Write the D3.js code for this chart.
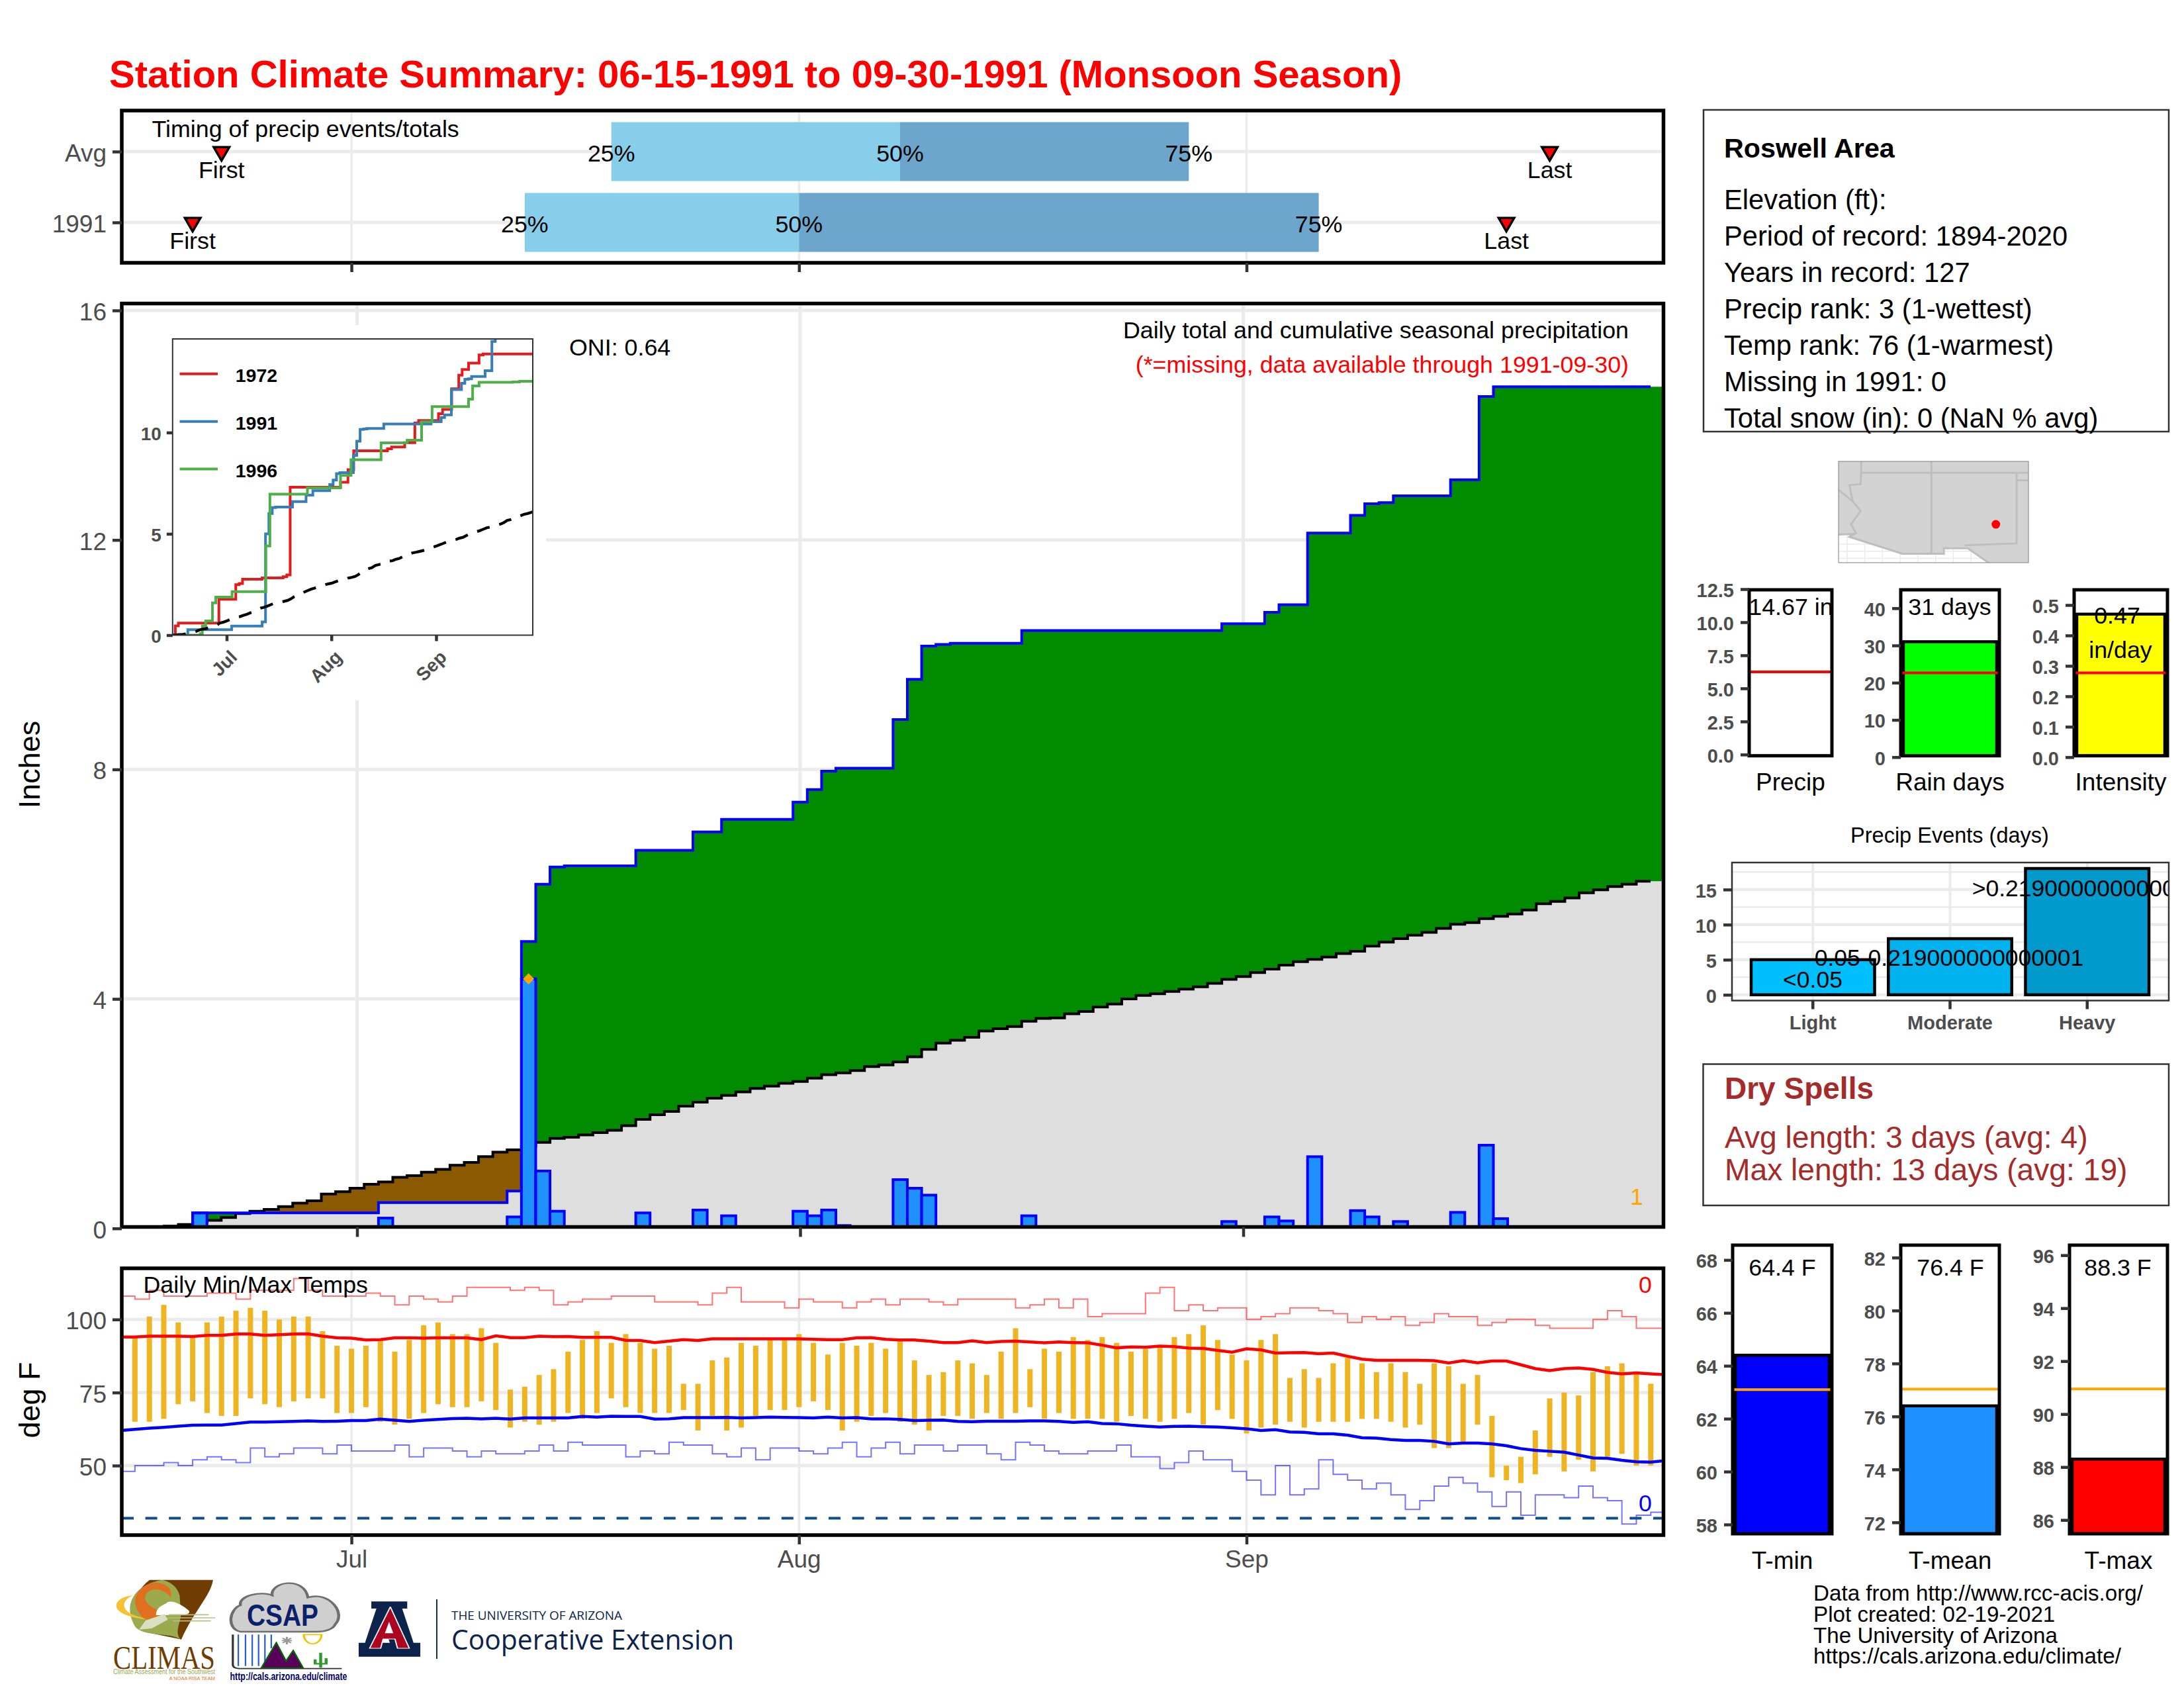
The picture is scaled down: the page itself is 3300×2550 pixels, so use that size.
<!DOCTYPE html>
<html>
<head>
<meta charset="utf-8">
<style>
  html, body { margin: 0; padding: 0; background: #fff; }
  svg { display: block; }
  text { font-family: "Liberation Sans", Arial, sans-serif; }
</style>
<script src="https://cdn.jsdelivr.net/npm/d3@7"></script>
</head>
<body>
<svg id="chart" width="3300" height="2550"></svg>
<script>
// --- data. Days are counted from Jun 15 (= 0) ---
const monthDays = [16, 47, 78];
const monthNames = ['Jul', 'Aug', 'Sep'];

const precipDays = [5, 18, 27, 28, 29, 30, 31, 36, 40, 42, 47, 48, 49, 50, 54, 55, 56, 57, 58, 63, 77, 80, 81, 83, 86, 87, 88, 89, 93, 95, 96];
const precipAmts = [.27, .18, .2, 4.35, 1.0, .3, .02, .27, .32, .22, .3, .22, .32, .05, .85, .7, .58, .03, .02, .22, .12, .2, .13, 1.25, .31, .2, .02, .12, .28, 1.45, .17];

// average cumulative precip, one value per day 0..106
const avgCum = [
  0, .01, .03, .04, .07, .11, .14, .19, .26, .30,
  .33, .38, .44, .48, .60, .64, .70, .77, .81, .89,
  .92, .98, 1.03, 1.10, 1.15, 1.25, 1.33, 1.37, 1.43, 1.50,
  1.57, 1.59, 1.63, 1.67, 1.71, 1.79, 1.90, 1.98, 2.04, 2.13,
  2.20, 2.27, 2.32, 2.38, 2.44, 2.48, 2.53, 2.56, 2.62, 2.68,
  2.71, 2.75, 2.82, 2.85, 2.90, 2.99, 3.12, 3.23, 3.28, 3.33,
  3.44, 3.48, 3.52, 3.61, 3.66, 3.67, 3.74, 3.78, 3.86, 3.91,
  4.00, 4.06, 4.09, 4.13, 4.17, 4.21, 4.27, 4.34, 4.39, 4.46,
  4.52, 4.59, 4.65, 4.69, 4.73, 4.79, 4.83, 4.92, 4.99, 5.05,
  5.11, 5.16, 5.23, 5.30, 5.33, 5.40, 5.44, 5.48, 5.55, 5.66,
  5.70, 5.76, 5.85, 5.90, 5.96, 6.00, 6.05
];

// inset comparison years: [day, cumulative inches]
const year1972 = [[0, 0], [.8, .46], [1.7, .6], [13.7, 1.77], [18.7, 2.49], [19.7, 2.55], [20.7, 2.76], [26.5, 2.83], [32.7, 2.88], [33.8, 2.97], [34.8, 7.3], [49.7, 7.55], [51.9, 8.17], [53.6, 9.1], [63.6, 9.2], [64.8, 9.29], [68.7, 9.5], [71.7, 10.47], [72.8, 10.59], [78.7, 10.93], [79.9, 11.14], [82.6, 12.16], [84.7, 12.83], [85.7, 13.11], [87.6, 13.43], [90.7, 13.83], [91.9, 13.88], [106.6, 13.88]];
const year1996 = [[0, 0], [3.2, 0], [8.2, .07], [8.8, .46], [9.8, .7], [11.8, 1.59], [12.8, 1.88], [17.6, 2.15], [27.6, 4.4], [28.8, 6.96], [39.9, 7.27], [49.7, 7.88], [52.8, 8.66], [61.7, 9.49], [69.4, 9.62], [73.7, 10.53], [76.8, 11.28], [87.6, 11.65], [88.8, 12.3], [90.7, 12.48], [100.7, 12.5], [102.7, 12.53], [106.6, 12.53]];
const insetYears = ['1972', '1991', '1996'];

// timing panel
const timingRows = ['Avg', '1991'];
const timingFirst = [7, 5];
const timingLast = [99, 96];
const timingQ25 = [34, 28];
const timingQ50 = [54, 47];
const timingQ75 = [74, 83];

// daily temps, bars run day 1..106
const tempHi = [94, 101, 105, 99, 94, 99, 101, 103, 104, 103, 100, 101, 101, 96, 91, 90, 91, 93, 89, 93, 98, 99, 95, 95, 97, 92, 76, 77, 81, 83, 89, 93, 96, 92, 95, 92, 90, 91, 78, 78, 86, 87, 92, 91, 93, 93, 95, 92, 88, 92, 91, 92, 90, 93, 86, 81, 82, 86, 85, 81, 89, 97, 83, 90, 89, 94, 93, 94, 92, 89, 90, 91, 94, 95, 98, 93, 88, 86, 93, 95, 80, 83, 80, 85, 87, 85, 82, 85, 82, 78, 85, 84, 78, 81, 67, 50, 53, 62, 73, 75, 74, 82, 84, 85, 82, 78];
const tempLo = [65, 65, 66, 71, 72, 68, 67, 67, 73, 71, 70, 72, 73, 73, 68, 68, 70, 65, 64, 66, 68, 71, 70, 70, 72, 69, 63, 65, 64, 65, 68, 66, 68, 73, 70, 68, 68, 68, 69, 62, 67, 62, 63, 67, 69, 69, 70, 72, 69, 62, 65, 67, 68, 65, 64, 62, 67, 67, 66, 68, 66, 68, 70, 66, 68, 66, 66, 66, 65, 67, 66, 65, 66, 68, 64, 69, 66, 61, 63, 64, 65, 63, 65, 65, 65, 66, 66, 65, 63, 64, 56, 56, 58, 64, 46, 45, 44, 47, 53, 48, 52, 48, 53, 54, 50, 50];

// record high / low, day 0..106
const recHi = [108, 107, 110, 108, 108, 108, 109, 109, 107, 110, 110, 110, 114, 110, 108, 108, 108, 109, 108, 105, 108, 107, 106, 108, 111, 111, 111, 110, 111, 110, 105, 106, 107, 107, 108, 108, 108, 106, 106, 106, 105, 109, 111, 106, 106, 106, 104, 107, 106, 106, 104, 106, 107, 105, 107, 107, 106, 105, 107, 107, 107, 107, 104, 105, 107, 104, 107, 101, 102, 102, 102, 109, 111, 103, 105, 103, 104, 104, 100, 101, 102, 104, 104, 103, 102, 99, 101, 100, 101, 98, 99, 102, 101, 101, 98, 99, 100, 100, 98, 97, 97, 97, 100, 103, 101, 97, 97];
const recLo = [48, 50, 50, 51, 50, 52, 53, 52, 51, 56, 53, 54, 56, 56, 54, 57, 55, 55, 55, 57, 53, 56, 56, 55, 53, 55, 54, 54, 55, 57, 55, 58, 57, 57, 57, 53, 55, 54, 58, 57, 57, 54, 53, 56, 52, 56, 56, 55, 54, 56, 58, 53, 56, 58, 54, 57, 57, 55, 57, 57, 54, 52, 58, 57, 55, 54, 54, 55, 55, 57, 53, 53, 49, 51, 55, 52, 52, 48, 45, 40, 50, 40, 42, 52, 47, 45, 42, 44, 40, 35, 38, 43, 46, 44, 41, 36, 41, 33, 40, 40, 39, 43, 39, 38, 30, 33, 34];

// smoothed normal high / low, day 0..107
const normHi = [94.0, 94.0, 94.3, 94.3, 94.3, 94.2, 94.6, 94.6, 95.0, 95.0, 94.6, 94.8, 95.0, 95.1, 94.3, 93.7, 93.6, 93.0, 93.1, 93.7, 93.7, 93.6, 93.7, 93.7, 93.7, 93.1, 94.4, 93.8, 93.8, 94.3, 94.1, 94.2, 93.9, 93.9, 93.9, 92.9, 92.8, 92.1, 92.6, 93.1, 92.8, 93.4, 93.4, 93.4, 93.4, 93.4, 93.4, 93.4, 93.2, 93.1, 93.1, 93.7, 93.8, 93.2, 93.0, 93.0, 92.6, 92.1, 92.1, 92.7, 92.1, 92.5, 92.6, 92.3, 92.0, 92.3, 92.1, 92.0, 91.2, 90.3, 90.6, 90.5, 90.9, 90.7, 90.2, 90.1, 89.4, 88.8, 90.0, 89.6, 88.5, 88.6, 88.7, 88.3, 88.5, 87.4, 86.4, 86.0, 86.0, 86.0, 86.0, 85.9, 85.1, 85.9, 85.2, 85.8, 85.8, 84.5, 83.2, 82.5, 83.2, 83.4, 82.9, 81.9, 81.4, 81.7, 81.4, 81.1];
const normLo = [62.0, 62.4, 62.8, 63.1, 63.5, 63.8, 63.9, 63.9, 64.4, 64.9, 64.9, 65.0, 65.1, 65.3, 65.1, 65.2, 65.4, 65.4, 65.9, 65.5, 65.1, 65.5, 65.8, 66.1, 66.2, 66.0, 66.2, 65.9, 66.3, 66.3, 66.3, 66.3, 66.8, 66.6, 66.9, 66.8, 66.8, 65.9, 66.0, 66.4, 66.4, 66.4, 66.5, 66.3, 66.4, 66.6, 66.5, 66.4, 66.3, 66.6, 66.3, 66.4, 66.0, 66.0, 65.8, 65.4, 65.5, 65.6, 65.1, 65.0, 65.2, 65.2, 65.2, 65.3, 65.3, 65.1, 64.8, 65.0, 64.4, 64.3, 63.8, 63.5, 63.2, 63.4, 63.5, 63.3, 63.2, 62.9, 62.6, 62.0, 62.3, 61.5, 61.4, 60.9, 60.9, 60.4, 59.5, 59.4, 58.9, 58.6, 58.6, 58.3, 57.4, 57.7, 57.7, 57.4, 56.8, 55.8, 55.2, 54.9, 54.6, 53.6, 52.6, 52.5, 51.8, 51.3, 51.2, 51.7];

// side panels
const infoTitle = 'Roswell Area';
const infoLines = ['Elevation (ft):', 'Period of record: 1894-2020', 'Years in record: 127', 'Precip rank: 3 (1-wettest)', 'Temp rank: 76 (1-warmest)', 'Missing in 1991: 0', 'Total snow (in): 0 (NaN % avg)'];
const eventCats = ['Light', 'Moderate', 'Heavy'];
const eventVals = [5, 8, 18];
const eventLabels = ['<0.05', '0.05-0.219000000000001', '>0.219000000000001'];
const eventColors = ['#00BFFF', '#00B2EE', '#009ACD'];
const drySpells = ['Avg length: 3 days (avg: 4)', 'Max length: 13 days (avg: 19)'];
const credits = ['Data from http://www.rcc-acis.org/', 'Plot created: 02-19-2021', 'The University of Arizona', 'https://cals.arizona.edu/climate/'];

// map outlines as [lon, lat]
const mapSouthEdge = [[-115.6, 32.67], [-114.49, 32.72], [-114.83, 32.51], [-111.1, 31.33], [-108.17, 31.33], [-108.17, 31.71], [-106.48, 31.71], [-105.01, 30.69]];
const mapBorders = [
  [[-113.99, 37.8], [-114.04, 36.2], [-114.83, 36.14], [-114.6, 35], [-114.04, 34.33], [-114.72, 33.39], [-114.38, 32.78], [-114.83, 32.51]],
  [[-115.6, 35.8], [-114.6, 35]],
  [[-114.04, 37], [-102.2, 37]],
  [[-109.05, 37.8], [-109.05, 31.33]],
  [[-103.04, 37], [-103.04, 32.05], [-106.7, 31.92]],
  [[-103.04, 36.47], [-102.2, 36.47]]
];
const mapGridLon = [-115, -113.75, -112.5, -111.25, -110, -108.75, -107.5, -106.25, -105, -103.75];
const mapGridLat = [32, 31.5, 31];
const station = [-104.5, 33.39];

// --- helpers ---
const svg = d3.select('#chart');
const AXIS_GREY = '#4D4D4D', GRID = '#EBEBEB';
const NOTE = 35.8;
let clipCount = 0;

function addText(g, x, y, str, o) {
  o = o || {};
  return g.append('text').attr('x', x).attr('y', y).attr('dy', '0.39em')
    .attr('text-anchor', o.anchor || 'start')
    .attr('font-size', o.size || NOTE)
    .attr('font-weight', o.weight || 'normal')
    .attr('fill', o.fill || '#000')
    .text(str);
}

function clipGroup(x0, y0, x1, y1) {
  const id = 'clip' + (clipCount++);
  svg.append('clipPath').attr('id', id).append('rect')
    .attr('x', x0).attr('y', y0).attr('width', x1 - x0).attr('height', y1 - y0);
  return svg.append('g').attr('clip-path', `url(#${id})`);
}

function frame(x0, y0, x1, y1, color, width) {
  svg.append('rect').attr('x', x0).attr('y', y0).attr('width', x1 - x0).attr('height', y1 - y0)
    .attr('fill', 'none').attr('stroke', color).attr('stroke-width', width);
}

function styleAxis(g, size, weight) {
  g.select('.domain').remove();
  g.selectAll('.tick line').attr('stroke', '#333').attr('stroke-width', 4.5);
  g.selectAll('.tick text').attr('fill', AXIS_GREY).attr('font-size', size)
    .attr('font-weight', weight).attr('font-family', '"Liberation Sans", Arial, sans-serif');
}

function leftAxis(px, scale, values, size, weight, len, pad, fmt) {
  const ax = d3.axisLeft(scale).tickValues(values).tickSize(len).tickPadding(pad);
  if (fmt) ax.tickFormat(fmt);
  const g = svg.append('g').attr('transform', `translate(${px},0)`).call(ax);
  styleAxis(g, size, weight);
  g.selectAll('.tick text').attr('dy', '0.39em');
  return g;
}

function bottomAxis(py, scale, values, size, weight, len, pad, fmt) {
  const ax = d3.axisBottom(scale).tickValues(values).tickSize(len).tickPadding(pad);
  ax.tickFormat(fmt || (() => ''));
  const g = svg.append('g').attr('transform', `translate(0,${py})`).call(ax);
  styleAxis(g, size, weight);
  return g;
}

function hGrid(g, scale, values, x0, x1, width) {
  g.selectAll(null).data(values).join('line')
    .attr('x1', x0).attr('x2', x1)
    .attr('y1', d => scale(d)).attr('y2', d => scale(d))
    .attr('stroke', GRID).attr('stroke-width', width);
}

function vGrid(g, scale, values, y0, y1, width) {
  g.selectAll(null).data(values).join('line')
    .attr('y1', y0).attr('y2', y1)
    .attr('x1', d => scale(d)).attr('x2', d => scale(d))
    .attr('stroke', GRID).attr('stroke-width', width);
}

const monthLabel = d => monthNames[monthDays.indexOf(d)];

// --- title ---
addText(svg, 165, 109, 'Station Climate Summary: 06-15-1991 to 09-30-1991 (Monsoon Season)',
  { size: 58, weight: 'bold', fill: '#FF0000' });

// --- timing panel ---
const L = 184, R = 2513.5;
const tX = d3.scaleLinear().domain([0.09, 106.88]).range([L, R]);
const timingY = d3.scalePoint().domain(timingRows).range([229, 336]);
{
  const g = clipGroup(L, 167, R, 397);
  vGrid(g, tX, monthDays, 167, 397, 3.5);
  hGrid(g, timingY, timingRows, L, R, 5);
  timingRows.forEach((row, i) => {
    const cy = timingY(row);
    g.append('rect').attr('x', tX(timingQ25[i])).attr('y', cy - 44.5)
      .attr('width', tX(timingQ50[i]) - tX(timingQ25[i])).attr('height', 89).attr('fill', '#87CEEB');
    g.append('rect').attr('x', tX(timingQ50[i])).attr('y', cy - 44.5)
      .attr('width', tX(timingQ75[i]) - tX(timingQ50[i])).attr('height', 89).attr('fill', '#6CA6CD');
    [[timingQ25[i], '25%'], [timingQ50[i], '50%'], [timingQ75[i], '75%']].forEach(q =>
      addText(g, tX(q[0]), cy + 1, q[1], { anchor: 'middle' }));
    [[timingFirst[i], 'First'], [timingLast[i], 'Last']].forEach(m => {
      const mx = tX(m[0]);
      g.append('path')
        .attr('d', d3.symbol().type(d3.symbolTriangle).size(240)())
        .attr('transform', `translate(${mx},${cy}) rotate(180)`)
        .attr('fill', '#FF0000').attr('stroke', '#000').attr('stroke-width', 3.5);
      addText(g, mx, cy + 26, m[1], { anchor: 'middle' });
    });
  });
  addText(g, 229.5, 193, 'Timing of precip events/totals');
  frame(L, 167, R, 397, '#000', 5.5);
  leftAxis(L, timingY, timingRows, 37, 'normal', 14, 9);
  bottomAxis(397, tX, monthDays, 35, 'normal', 14, 8);
}

// --- main precip panel ---
const MAIN_TOP = 458.5, MAIN_BOTTOM = 1853.5;
const pX = d3.scaleLinear().domain([-0.46, 107.4]).range([L, R]);
const pY = d3.scaleLinear().domain([0, 16]).range([1855.7, 469]);
const cumTotal = Array.from(d3.cumsum(precipAmts));
const totalOn = d => { const i = d3.bisectRight(precipDays, d); return i ? cumTotal[i - 1] : 0; };
const stepRows = avgCum.flatMap((a, d) => {
  const row = { avg: a, total: totalOn(d) };
  const from = d === 0 ? pX.domain()[0] : d - .5;
  const to = d === avgCum.length - 1 ? pX.domain()[1] : d + .5;
  return [{ x: from, ...row }, { x: to, ...row }];
});
const totalSteps = [[precipDays[0] - .5, 0]].concat(precipDays.map((d, i) => [d - .5, cumTotal[i]]), [[106.5, cumTotal[cumTotal.length - 1]]]);
const avgSteps = avgCum.flatMap((a, d) => [[d - .5, a], [d + .5, a]]);
{
  const g = clipGroup(L, MAIN_TOP, R, MAIN_BOTTOM);
  hGrid(g, pY, [0, 4, 8, 12, 16], L, R, 5);
  vGrid(g, pX, monthDays, MAIN_TOP, MAIN_BOTTOM, 5);

  const ribbon = (lo, hi) => d3.area().x(d => pX(d.x)).y0(d => pY(lo(d))).y1(d => pY(hi(d)));
  g.append('path').attr('d', ribbon(() => 0, d => Math.min(d.avg, d.total))(stepRows)).attr('fill', '#DEDEDE');
  g.append('path').attr('d', ribbon(d => d.avg, d => Math.max(d.avg, d.total))(stepRows)).attr('fill', '#008B00');
  g.append('path').attr('d', ribbon(d => d.total, d => Math.max(d.avg, d.total))(stepRows)).attr('fill', '#8B5A00');

  g.append('path').attr('d', d3.line().x(d => pX(d[0])).y(d => pY(d[1]))(avgSteps))
    .attr('fill', 'none').attr('stroke', '#000').attr('stroke-width', 4);

  g.selectAll('.day').data(precipDays).join('rect').attr('class', 'day')
    .attr('x', d => pX(d - .5)).attr('width', d => pX(d + .5) - pX(d - .5))
    .attr('y', (d, i) => pY(precipAmts[i])).attr('height', (d, i) => pY(0) - pY(precipAmts[i]))
    .attr('fill', '#1E90FF').attr('stroke', '#0000FF').attr('stroke-width', 4);

  g.append('path').attr('d', d3.line().curve(d3.curveStepAfter).x(d => pX(d[0])).y(d => pY(d[1]))(totalSteps))
    .attr('fill', 'none').attr('stroke', '#0000FF').attr('stroke-width', 4);

  // wettest day marker
  g.append('path').attr('d', d3.symbol().type(d3.symbolSquare).size(144)())
    .attr('transform', `translate(${pX(28)},${pY(precipAmts[3])}) rotate(45)`).attr('fill', '#FFA500');

  addText(g, 2461, 497, 'Daily total and cumulative seasonal precipitation', { anchor: 'end' });
  addText(g, 2461, 549, '(*=missing, data available through 1991-09-30)', { anchor: 'end', fill: '#FF0000' });
  addText(g, 2473, 1806, '1', { anchor: 'middle', fill: '#FFA500' });
  addText(g, 860, 523, 'ONI: 0.64');

  // inset, with a white plate that cuts the gridlines
  g.append('rect').attr('x', L).attr('y', 491).attr('width', 825 - L).attr('height', 1058 - 491).attr('fill', '#fff');
  frame(L, MAIN_TOP, R, MAIN_BOTTOM, '#000', 5.5);
  leftAxis(L, pY, [0, 4, 8, 12, 16], 37, 'normal', 14, 9);
  bottomAxis(MAIN_BOTTOM, pX, monthDays, 35, 'normal', 15, 8);
  addText(svg, 0, 0, 'Inches', { anchor: 'middle', size: 45 }).attr('transform', 'translate(42,1155) rotate(-90)');
}

// --- inset cumulative comparison ---
{
  const iX = d3.scaleLinear().domain([0, 106.6]).range([260.8, 805]);
  const iY = d3.scaleLinear().domain([0, 14.62]).range([959.5, 512]);
  const g = clipGroup(260.8, 512, 805, 959.5);
  const stepLine = d3.line().curve(d3.curveStepAfter).x(d => iX(d[0])).y(d => iY(d[1]));
  const colors = ['#E41A1C', '#377EB8', '#4DAF4A'];
  const year1991 = [[0, 0]].concat(totalSteps.slice(1, -1), [[106.6, cumTotal[cumTotal.length - 1]]]);
  [year1972, year1991, year1996].forEach((s, i) =>
    g.append('path').attr('d', stepLine(s)).attr('fill', 'none').attr('stroke', colors[i]).attr('stroke-width', 4));
  g.append('path').attr('d', d3.line().x((d, i) => iX(i)).y(d => iY(d))(avgCum.concat(6.12)))
    .attr('fill', 'none').attr('stroke', '#000').attr('stroke-width', 4.2).attr('stroke-dasharray', '20 15');
  frame(260.8, 512, 805, 959.5, '#333', 2);
  leftAxis(260.8, iY, [0, 5, 10], 28, 'bold', 9, 8);
  const xa = bottomAxis(959.5, iX, monthDays, 28, 'bold', 9, 8, monthLabel);
  xa.selectAll('.tick text').attr('text-anchor', 'end').attr('dy', 0)
    .attr('transform', 'translate(5,23) rotate(-45)');
  const legendY = d3.scalePoint().domain(insetYears).range([564.7, 708.6]);
  insetYears.forEach((yr, i) => {
    svg.append('line').attr('x1', 271.5).attr('x2', 329).attr('y1', legendY(yr)).attr('y2', legendY(yr))
      .attr('stroke', colors[i]).attr('stroke-width', 4);
    addText(svg, 355.7, legendY(yr) + 1, yr, { size: 28.5, weight: 'bold' });
  });
}

// --- daily temps panel ---
{
  const T = 1916, B = 2319;
  const tY = d3.scaleLinear().domain([50, 100]).range([2214, 1993.3]);
  const g = clipGroup(L, T, R, B);
  hGrid(g, tY, [50, 75, 100], L, R, 5);
  vGrid(g, tX, monthDays, T, B, 3.5);
  const thin = (vals, color) => g.append('path')
    .attr('d', d3.line().curve(d3.curveStepAfter).x((d, i) => tX(i)).y(d => tY(d))(vals.concat(vals[vals.length - 1])))
    .attr('fill', 'none').attr('stroke', color).attr('stroke-width', 2).attr('stroke-opacity', .55);
  thin(recHi, '#FF0000');
  thin(recLo, '#0000FF');
  g.selectAll('.t').data(tempHi).join('rect').attr('class', 't')
    .attr('x', (d, i) => tX(i + 1) - 4).attr('width', 8)
    .attr('y', d => tY(d)).attr('height', (d, i) => tY(tempLo[i]) - tY(d))
    .attr('fill', '#EEB422');
  const smooth = d3.line().x((d, i) => tX(i)).y(d => tY(d));
  g.append('path').attr('d', smooth(normHi)).attr('fill', 'none').attr('stroke', '#FF0000').attr('stroke-width', 4.5);
  g.append('path').attr('d', smooth(normLo)).attr('fill', 'none').attr('stroke', '#0000FF').attr('stroke-width', 4.5);
  g.append('line').attr('x1', L).attr('x2', R).attr('y1', tY(32)).attr('y2', tY(32))
    .attr('stroke', '#104E8B').attr('stroke-width', 4).attr('stroke-dasharray', '18 17.6');
  addText(g, 216.5, 1939, 'Daily Min/Max Temps');
  addText(g, 2486, 1939, '0', { anchor: 'middle', fill: '#FF0000' });
  addText(g, 2486, 2269, '0', { anchor: 'middle', fill: '#0000FF' });
  frame(L, T, R, B, '#000', 5.5);
  leftAxis(L, tY, [50, 75, 100], 37, 'normal', 14, 9);
  bottomAxis(B, tX, monthDays, 37, 'normal', 14, 9, monthLabel);
  addText(svg, 0, 0, 'deg F', { anchor: 'middle', size: 45 }).attr('transform', 'translate(42,2115) rotate(-90)');
}

// --- info box ---
{
  frame(2574, 166, 3277, 652, '#333', 2.5);
  addText(svg, 2605, 222, infoTitle, { size: 41.3, weight: 'bold' });
  const lineY = d3.scalePoint().domain(infoLines).range([300, 630]);
  infoLines.forEach(s => addText(svg, 2605, lineY(s), s, { size: 41.7 }));
}

// --- locator map ---
{
  const mX = d3.scaleLinear().domain([-115.6, -102.2]).range([2778, 3065]);
  const mY = d3.scaleLinear().domain([30.7, 37.8]).range([850, 697]);
  const g = clipGroup(2778, 697, 3065, 850);
  const mapLine = d3.line().x(d => mX(d[0])).y(d => mY(d[1]));
  g.selectAll('.gl').data(mapGridLon).join('line').attr('class', 'gl')
    .attr('x1', d => mX(d)).attr('x2', d => mX(d)).attr('y1', 697).attr('y2', 850)
    .attr('stroke', GRID).attr('stroke-width', 1.5);
  g.selectAll('.gt').data(mapGridLat).join('line').attr('class', 'gt')
    .attr('y1', d => mY(d)).attr('y2', d => mY(d)).attr('x1', 2778).attr('x2', 3065)
    .attr('stroke', GRID).attr('stroke-width', 1.5);
  const land = [[-115.6, 37.8], [-102.2, 37.8], [-102.2, 30.7]].concat(mapSouthEdge.slice().reverse());
  g.append('path').attr('d', mapLine(land) + 'Z').attr('fill', '#D3D3D3').attr('stroke', 'none');
  g.append('path').attr('d', mapLine(mapSouthEdge)).attr('fill', 'none').attr('stroke', '#BEBEBE').attr('stroke-width', 3);
  mapBorders.forEach(b => g.append('path').attr('d', mapLine(b)).attr('fill', 'none').attr('stroke', '#BEBEBE').attr('stroke-width', 3));
  g.append('circle').attr('cx', mX(station[0])).attr('cy', mY(station[1])).attr('r', 6.5).attr('fill', '#FF0000');
  frame(2778, 697, 3065, 850, '#7F7F7F', 1);
}

// --- small summary bars ---
function statBar(c) {
  const y = d3.scaleLinear().domain(c.domain).range([c.bottom, c.top]);
  const g = clipGroup(c.left, c.top, c.right, c.bottom);
  if (c.value <= c.domain[1]) {
    g.append('rect').attr('x', c.left + 4).attr('width', c.right - c.left - 8)
      .attr('y', y(c.value)).attr('height', c.bottom - y(c.value) + 4)
      .attr('fill', c.fill).attr('stroke', '#000').attr('stroke-width', 4.5);
  }
  g.append('line').attr('x1', c.left).attr('x2', c.right).attr('y1', y(c.avg)).attr('y2', y(c.avg))
    .attr('stroke', c.avgColor).attr('stroke-width', 4);
  c.notes.forEach(n => addText(g, n[0], n[1], n[2], { size: NOTE }).attr('text-anchor', 'middle'));
  frame(c.left, c.top, c.right, c.bottom, '#000', 5);
  leftAxis(c.left, y, c.ticks, 29, 'bold', 13, 10, c.fmt);
  addText(svg, (c.left + c.right) / 2, c.labelY, c.label, { size: 37, anchor: 'middle' });
}

statBar({ left: 2643, right: 2768, top: 891, bottom: 1141.7, domain: [-.09, 12.45], ticks: [0, 2.5, 5, 7.5, 10, 12.5],
  value: 14.67, avg: 6.25, fill: '#fff', avgColor: '#FF0000', label: 'Precip', labelY: 1180, fmt: d3.format('.1f'),
  notes: [[2706, 915, '14.67 in']] });
statBar({ left: 2872, right: 3021, top: 891, bottom: 1141.7, domain: [.37, 44.95], ticks: [0, 10, 20, 30, 40],
  value: 31, avg: 22.65, fill: '#00FF00', avgColor: '#FF0000', label: 'Rain days', labelY: 1180,
  notes: [[2946, 915, '31 days']] });
statBar({ left: 3134, right: 3275, top: 891, bottom: 1141.7, domain: [.0046, .55], ticks: [0, .1, .2, .3, .4, .5],
  value: .47, avg: .277, fill: '#FFFF00', avgColor: '#FF0000', label: 'Intensity', labelY: 1180, fmt: d3.format('.1f'),
  notes: [[3199, 928, '0.47'], [3204, 980, 'in/day']] });

statBar({ left: 2618, right: 2768, top: 1881, bottom: 2317, domain: [57.65, 68.56], ticks: [58, 60, 62, 64, 66, 68],
  value: 64.4, avg: 63.1, fill: '#0000FF', avgColor: '#FFA500', label: 'T-min', labelY: 2356,
  notes: [[2693, 1913, '64.4 F']] });
statBar({ left: 2872, right: 3021, top: 1881, bottom: 2317, domain: [71.57, 82.47], ticks: [72, 74, 76, 78, 80, 82],
  value: 76.4, avg: 77.03, fill: '#1E90FF', avgColor: '#FFA500', label: 'T-mean', labelY: 2356,
  notes: [[2947, 1913, '76.4 F']] });
statBar({ left: 3127, right: 3275, top: 1881, bottom: 2317, domain: [85.48, 96.38], ticks: [86, 88, 90, 92, 94, 96],
  value: 88.3, avg: 90.95, fill: '#FF0000', avgColor: '#FFA500', label: 'T-max', labelY: 2356,
  notes: [[3200, 1913, '88.3 F']] });

// --- precip events ---
{
  const x0 = 2617, x1 = 3277, T = 1303, B = 1511.5;
  const eX = d3.scaleBand().domain(eventCats).range([2646, 3247]).paddingInner(.1);
  const eY = d3.scaleLinear().domain([-.82, 18.85]).range([B, T]);
  const eCenter = d => eX(d) + eX.bandwidth() / 2;
  addText(svg, 2946, 1260, 'Precip Events (days)', { size: 32.5, anchor: 'middle' });
  const g = clipGroup(x0, T, x1, B);
  hGrid(g, eY, [2.5, 7.5, 12.5, 17.5], x0, x1, 2.5);
  hGrid(g, eY, [0, 5, 10, 15], x0, x1, 4.5);
  vGrid(g, eCenter, eventCats, T, B, 4);
  g.selectAll('.ev').data(eventCats).join('rect').attr('class', 'ev')
    .attr('x', d => eX(d)).attr('width', eX.bandwidth())
    .attr('y', (d, i) => eY(eventVals[i])).attr('height', (d, i) => eY(0) - eY(eventVals[i]))
    .attr('fill', (d, i) => eventColors[i]).attr('stroke', '#000').attr('stroke-width', 4.5);
  const labelPos = [[2739, 1478], [2945, 1445], [3153, 1340]];
  eventLabels.forEach((s, i) => addText(g, labelPos[i][0], labelPos[i][1], s, { size: 35.5, anchor: 'middle' }));
  frame(x0, T, x1, B, '#333', 2.5);
  leftAxis(x0, eY, [0, 5, 10, 15], 29, 'bold', 13, 10);
  const ax = d3.axisBottom(eX).tickSize(13).tickPadding(10);
  styleAxis(svg.append('g').attr('transform', `translate(0,${B})`).call(ax), 29, 'bold');
}

// --- dry spells ---
{
  const BROWN = '#A52A2A';
  frame(2573.5, 1607.5, 3277, 1821, '#333', 2.5);
  addText(svg, 2606, 1642, 'Dry Spells', { size: 46, weight: 'bold', fill: BROWN });
  addText(svg, 2606, 1716, drySpells[0], { size: 46.2, fill: BROWN });
  addText(svg, 2606, 1765, drySpells[1], { size: 46.2, fill: BROWN });
}

// --- credits ---
credits.forEach((s, i) => addText(svg, 2740, 2405.5 + i * 31.6, s, { size: 33.2 }));

// --- logos: rough vector stand-ins, paths in crop pixels so squeezed with a transform ---
{
  const logo = svg.append('g').attr('transform', 'translate(140,2350) scale(0.638,0.3333)');
  const shape = (d, fill, extra) => {
    const p = logo.append('path').attr('d', d).attr('fill', fill);
    if (extra) Object.keys(extra).forEach(k => p.attr(k, extra[k]));
    return p;
  };
  // CLIMAS
  shape('M135,110H285C280,180 240,250 210,380L135,350C95,300 85,180 135,110Z', '#6F3D02');
  shape('M165,110C100,130 70,220 100,320C120,370 180,345 208,380C190,340 215,290 208,240L206,180C200,140 185,120 165,110Z', '#9AAA4D');
  shape('M150,122C95,135 85,230 125,292L178,262C130,240 110,190 135,160C150,145 175,160 185,190C190,150 175,125 150,122Z', '#E07020');
  shape('M95,180C45,190 30,270 130,290L112,278C70,260 62,210 95,180Z', '#F6C232');
  shape('M150,270C150,235 165,225 175,215C185,195 215,225 228,250C232,265 220,268 210,268Z', '#fff');
  shape('M110,335L125,295L170,265L178,290L140,330Z', '#D9DFC0');
  shape('M180,268H275M175,282H290M190,296H280', 'none', { stroke: '#B5BE86', 'stroke-width': 5 });
  // CSAP cloud and scene
  shape('M350,345C315,330 325,240 350,225C345,180 400,160 425,180C420,120 500,90 510,190C560,160 600,260 575,310C570,335 550,345 530,345Z', '#CFCFCF', { stroke: '#6E6E6E', 'stroke-width': 7 });
  shape('M345,358V500M362,358V500M378,358V500M393,358V500M408,358V480M423,358V420', 'none', { stroke: '#2B5FD0', 'stroke-width': 3.5 });
  shape('M332,358V495Q332,512 350,512H590', 'none', { stroke: '#333', 'stroke-width': 5 });
  shape('M400,508L435,395L458,478L475,430L498,508Z', '#5A005A', { stroke: '#006600', 'stroke-width': 4 });
  shape('M448,385H472M460,368V402M450,374L470,396M470,374L450,396', 'none', { stroke: '#999', 'stroke-width': 5 });
  shape('M500,358A20,40 0 0 0 542,358Z', 'none', { stroke: '#F2C200', 'stroke-width': 5 });
  shape('M540,508V440M527,470V490H553V465', 'none', { stroke: '#2E9B2E', 'stroke-width': 7 });
  // block A
  shape('M660,208H745V240H733L760,395H776V458H690V395H704L700,375H683L680,395H694V458H630V395H645L672,240H660Z', '#0C234B');
  shape('M705,232L750,420H722L716,378H688L682,420H656Z', '#AB0520', { stroke: '#fff', 'stroke-width': 3 });
  shape('M702,300L712,352H692Z', '#fff');
  shape('M815,198V468', 'none', { stroke: '#0C234B', 'stroke-width': 3 });

  addText(svg, 248, 2501, 'CLIMAS', { size: 51, anchor: 'middle', fill: '#6F3D02' })
    .style('font-family', '"Liberation Serif", serif').attr('textLength', 154).attr('lengthAdjust', 'spacingAndGlyphs');
  addText(svg, 248, 2525, 'Climate Assessment for the Southwest', { size: 11, anchor: 'middle', fill: '#9AAA4D' })
    .attr('textLength', 154).attr('lengthAdjust', 'spacingAndGlyphs');
  addText(svg, 325, 2535, 'A NOAA RISA TEAM', { size: 7.5, anchor: 'end', fill: '#E07020' });
  addText(svg, 427, 2438, 'CSAP', { size: 46, weight: 'bold', anchor: 'middle', fill: '#0B1F6B' })
    .attr('textLength', 108).attr('lengthAdjust', 'spacingAndGlyphs');
  addText(svg, 436, 2531, 'http://cals.arizona.edu/climate', { size: 17, weight: 'bold', anchor: 'middle', fill: '#000066' })
    .attr('textLength', 177).attr('lengthAdjust', 'spacingAndGlyphs');
  addText(svg, 682, 2440, 'THE UNIVERSITY OF ARIZONA', { size: 19, fill: '#0C234B' })
    .style('font-family', '"Open Sans", sans-serif').attr('textLength', 258).attr('lengthAdjust', 'spacingAndGlyphs');
  addText(svg, 682, 2476, 'Cooperative Extension', { size: 42, fill: '#0C234B' })
    .style('font-family', '"Open Sans", sans-serif').attr('textLength', 427).attr('lengthAdjust', 'spacingAndGlyphs');
}
</script>
</body>
</html>
